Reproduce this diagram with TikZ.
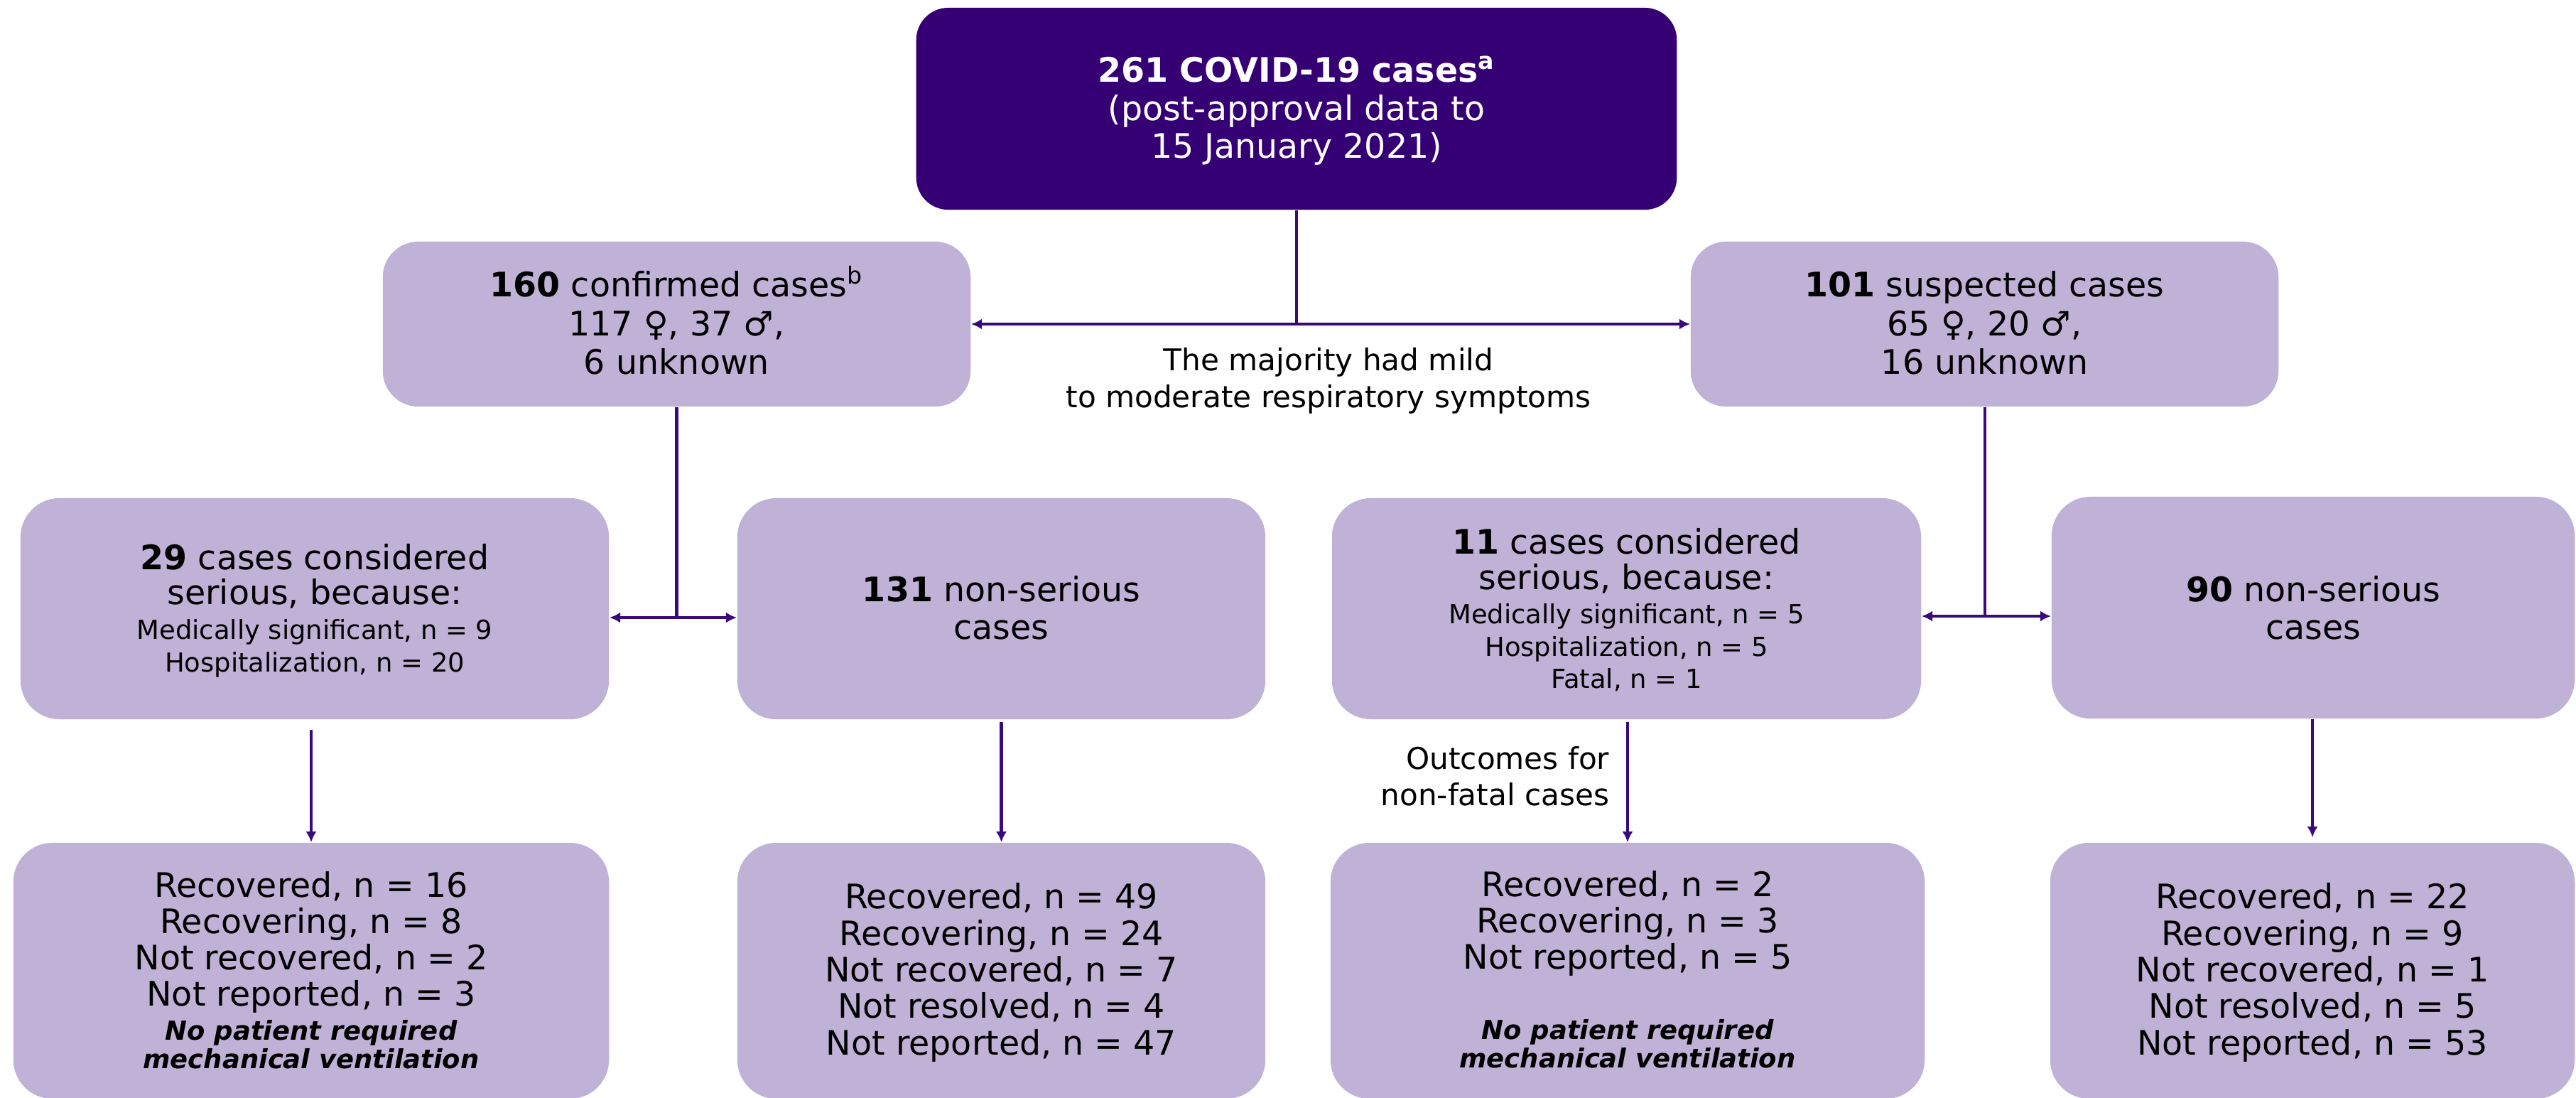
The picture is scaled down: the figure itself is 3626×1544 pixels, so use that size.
\documentclass[tikz,border=0pt]{standalone}
\usepackage{fontspec}
\setmainfont{DejaVu Sans}
\usetikzlibrary{arrows.meta}
\definecolor{darkp}{RGB}{54,0,117}
\definecolor{litep}{RGB}{192,178,215}
\definecolor{linep}{RGB}{58,10,122}
\newcommand{\myfs}[2]{\fontsize{#1}{#2}\selectfont}
\begin{document}
\begin{tikzpicture}[x=0.01cm,y=-0.01cm,
  darkbox/.style={fill=darkp, draw=none, rounded corners=0.45cm, inner sep=0},
  litebox/.style={fill=litep, draw=none, rounded corners=0.55cm, inner sep=0},
  txt/.style={inner sep=0, align=center, anchor=north, text=black},
  conn/.style={draw=linep, line width=1.2pt},
  tip/.style={-{Latex[length=4.3pt,width=4.3pt]}},
  tips/.style={{Latex[length=4.3pt,width=4.3pt]}-{Latex[length=4.3pt,width=4.3pt]}}
]
\useasboundingbox (0,0) rectangle (3626,1544);
\clip (0,0) rectangle (3626,1544);

% boxes
\node[darkbox, minimum width=10.70cm, minimum height=2.84cm] (top) at (1825,153) {};
\node[litebox, rounded corners=0.5cm, minimum width=8.27cm, minimum height=2.32cm] (conf) at (952.5,456) {};
\node[litebox, rounded corners=0.5cm, minimum width=8.27cm, minimum height=2.32cm] (susp) at (2793.5,456) {};
\node[litebox, minimum width=8.28cm, minimum height=3.11cm] (s1) at (443,856.5) {};
\node[litebox, minimum width=7.43cm, minimum height=3.11cm] (ns1) at (1409.5,856.5) {};
\node[litebox, minimum width=8.29cm, minimum height=3.11cm] (s2) at (2289.5,856.5) {};
\node[litebox, minimum width=7.36cm, minimum height=3.12cm] (ns2) at (3256,855) {};
\node[litebox, minimum width=8.38cm, minimum height=3.60cm] (b1) at (438,1366) {};
\node[litebox, minimum width=7.43cm, minimum height=3.60cm] (b2) at (1409.5,1366) {};
\node[litebox, minimum width=8.36cm, minimum height=3.60cm] (b3) at (2291,1366) {};
\node[litebox, minimum width=7.38cm, minimum height=3.60cm] (b4) at (3255,1366) {};

% texts
\node[txt, text=white, font=\myfs{13.5}{15.2}] (ttop) at (1825,80)
  {\textbf{261 COVID-19 cases\smash{\textsuperscript{a}}}\\(post-approval data to\\15 January 2021)};
\node[txt, font=\myfs{13.5}{15.5}] (tconf) at (952.5,381)
  {\textbf{160} confirmed cases\smash{\textsuperscript{b}}\\117 ♀, 37 ♂,\\6 unknown};
\node[txt, font=\myfs{13.5}{15.5}] (tsusp) at (2793.5,381)
  {\textbf{101} suspected cases\\65 ♀, 20 ♂,\\16 unknown};
\node[txt, font=\myfs{12}{14.8}] (tmaj) at (1870,489)
  {The majority had mild\\to moderate respiratory symptoms};

\node[txt, font=\myfs{13.5}{13.9}] (ts1a) at (443,765)
  {\textbf{29} cases considered\\serious, because:};
\node[txt, font=\myfs{10.5}{13.1}] (ts1b) at (443,871)
  {Medically significant, n = 9\\Hospitalization, n = 20};
\node[txt, font=\myfs{13.5}{15.1}] (tns1) at (1409.5,810)
  {\textbf{131} non-serious\\cases};
\node[txt, font=\myfs{13.5}{14.2}] (ts2a) at (2289.5,743)
  {\textbf{11} cases considered\\serious, because:};
\node[txt, font=\myfs{10.5}{12.9}] (ts2b) at (2289.5,849)
  {Medically significant, n = 5\\Hospitalization, n = 5\\Fatal, n = 1};
\node[txt, font=\myfs{13.5}{15.1}] (tns2) at (3256,810)
  {\textbf{90} non-serious\\cases};

\node[txt, anchor=north east, align=right, font=\myfs{12}{14.5}] (tout) at (2266,1050)
  {Outcomes for\\non-fatal cases};

\node[txt, font=\myfs{13.5}{14.5}] (tb1a) at (438,1226)
  {Recovered, n = 16\\Recovering, n = 8\\Not recovered, n = 2\\Not reported, n = 3};
\node[txt, font=\myfs{10.5}{11.4}\bfseries\itshape] (tb1b) at (438,1435)
  {No patient required\\mechanical ventilation};
\node[txt, font=\myfs{13.5}{14.6}] (tb2) at (1409.5,1242)
  {Recovered, n = 49\\Recovering, n = 24\\Not recovered, n = 7\\Not resolved, n = 4\\Not reported, n = 47};
\node[txt, font=\myfs{13.5}{14.5}] (tb3a) at (2291,1225)
  {Recovered, n = 2\\Recovering, n = 3\\Not reported, n = 5};
\node[txt, font=\myfs{10.5}{11.4}\bfseries\itshape] (tb3b) at (2291,1434)
  {No patient required\\mechanical ventilation};
\node[txt, font=\myfs{13.5}{14.6}] (tb4) at (3255,1242)
  {Recovered, n = 22\\Recovering, n = 9\\Not recovered, n = 1\\Not resolved, n = 5\\Not reported, n = 53};

% connectors
\coordinate (j1) at (top.south |- conf.east);
\draw[conn] (top.south) -- (j1);
\draw[conn,tip] (j1) -- (conf.east);
\draw[conn,tip] (j1) -- (susp.west);

\coordinate (j2) at (950,869);
\draw[conn] (conf.south) -- (conf.south |- j2);
\draw[conn,tips] (s1.east |- j2) -- (ns1.west |- j2);

\coordinate (j3) at (2794,867);
\draw[conn] (j3 |- susp.south) -- (j3);
\draw[conn,tips] (s2.east |- j3) -- (ns2.west |- j3);

\draw[conn,tip,shorten <=4pt] (b1.north |- s1.south) -- (b1.north);
\draw[conn,tip,shorten <=1pt] (ns1.south) -- (b2.north);
\draw[conn,tip,shorten <=1pt] (s2.south -| b3.north) -- (b3.north);
\draw[conn,tip,shorten >=2pt] (ns2.south -| b4.north) -- (b4.north);
\end{tikzpicture}
\end{document}
